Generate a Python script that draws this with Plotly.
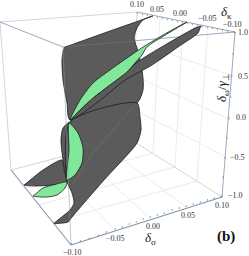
import plotly.graph_objects as go

# Flattened (projected) view of the 3D plot: x, y on a 249x256 plane
wing_x = [24,26,43,62,64,67,53,37,27]
wing_y = [185,183.5,170,160,170,182,185,186,185.6]
green_low_x = [33,35,43,55,67,65,57,47,36]
green_low_y = [196,194.5,188,184.5,182,188,195,197,196.6]
lobe_x = [70,63,61,63,67,69]
lobe_y = [122,128,140,160,181,150]
sheet_upper_x = [65,68,110,150,153,151,143,137,134,137,141,143,143,137,70,67,63,62,63.5]
sheet_upper_y = [47,46,31,17,16,16.5,20,28,38,48,64,78,90,103,120,103,80,60,50]
strip_x = [70,78,93,110,127,135,145,165,195,199,201,200,198,178,152,125,103,80]
strip_y = [120,112,98,85,72,64,57,45,28,26.5,26,28,33,47,65,80,98,115]
green_up_x = [70,80,93,110,127,140,158,172,187,162,147,142,135,127,110,93,78]
green_up_y = [120,100,83,70,58,49,38,30,22,37,47,55,63,72,85,98,112]
sheet_lower_x = [70,137,140,141,137,104,72,68,57,54,58,70,74,72,67]
sheet_lower_y = [122,103,117,130,143,180,217,222,223.5,223.5,220,210,203,193,181]
green_mid_x = [69,78,83,82,75,67,69]
green_mid_y = [123,133,148,163,175,180,150]
ridge_x = [133,93,72]
ridge_y = [107,153,185]

# Box edges (from, to)
back_edges = [((0,22),(137,12)),((137,12),(130,139)),((0,22),(11,170)),((11,170),(130,139)),((130,139),(222,197))]
front_edges = [((0,22),(63,47)),((63,47),(235,32)),((137,12),(235,32)),((235,32),(222,197)),((11,170),(71,245)),((71,245),(222,197))]
front_post = [(63,47),(71,245)]
# Faint grid lines
grid_lines = [((115,230),(47,161)),((150,218),(78,153)),((186,207),(105,146)),
              ((53,222),(197,181)),((39,205),(175,167)),((26,188),(153,153)),
              ((160,17),(153,153)),((183,22),(175,167)),((208,27),(197,181)),
              ((135,42),(233,76)),((133,75),(231,120)),((131,108),(226,157))]
# Tick marks: start points and tick direction on the three labelled axes
kappa_ticks = [(137,12),(142,13.2),(147,14.3),(152,15.3),(157,16.3),(162,17.3),(167,18.3),(172,19.4),(177,20.5),(182,21.5),
               (187,22.3),(192,23.3),(197,24.3),(202,25.3),(207,26.3),(212,27.3),(217,28.3),(222,29.3),(227,30.3),(235,32)]
sigma_ticks = [(71,245),(80,242),(89,239.5),(98,236.5),(106,233),(115,230),(122,228),(129,225),(136,223),(143,220),(150,218),
               (157,216),(164,214),(172,211),(179,209),(186,207),(193,205),(200,203),(207,201),(214,199),(222,197)]
omega_ticks = [(235,32),(234,54),(232.5,76),(231.5,97),(230,118),(228,138),(226,158),(224,177),(222,197)]

def seg(lines):
    xs, ys = [], []
    for a, b in lines:
        xs += [a[0], b[0], None]
        ys += [a[1], b[1], None]
    return xs, ys

fig = go.Figure()
def line(lines, color, width):
    x, y = seg(lines)
    fig.add_trace(go.Scatter(x=x, y=y, mode="lines", line=dict(color=color, width=width), hoverinfo="skip"))
def poly(x, y, fill, edge="#1c1c1c", w=0.8):
    fig.add_trace(go.Scatter(x=x + x[:1], y=y + y[:1], mode="lines", fill="toself", fillcolor=fill,
                             line=dict(color=edge, width=w, shape="spline", smoothing=0.7), hoverinfo="skip"))

DARK = "#5b5b5b"
GREEN = "#80e898"
line(grid_lines, "#e6e6e6", 0.8)
line(back_edges, "#c4ccd4", 0.8)
line(front_edges[:4], "#8fa2b8", 0.9)
line(front_edges[4:], "#7f94ac", 1.1)

poly(wing_x, wing_y, DARK)
poly(green_low_x, green_low_y, GREEN)
poly(lobe_x, lobe_y, DARK)
poly(sheet_upper_x, sheet_upper_y, DARK)
poly(strip_x, strip_y, DARK)
poly(green_up_x, green_up_y, GREEN)
poly(sheet_lower_x, sheet_lower_y, DARK)
poly(green_mid_x, green_mid_y, GREEN)
line([((ridge_x[0],ridge_y[0]),(ridge_x[1],ridge_y[1])),((ridge_x[1],ridge_y[1]),(ridge_x[2],ridge_y[2]))], "#6d6d6d", 0.8)
line([(front_post[0], front_post[1])], "rgba(130,150,172,0.65)", 0.8)
line([((63,47),(135,41))], "rgba(140,160,180,0.35)", 0.7)

line([(p, (p[0]+0.6, p[1]+2)) for p in kappa_ticks], "#6f7f90", 0.7)
line([(p, (p[0]+0.6, p[1]-2)) for p in sigma_ticks], "#6f7f90", 0.7)
line([(p, (p[0]-2, p[1])) for p in omega_ticks], "#6f7f90", 0.7)

label_text = ["0.10","0.05","0.00","\u22120.05","\u22120.10","1.0","0.5","0.0","\u22120.5","\u22121.0",
              "\u22120.10","\u22120.05","0.00","0.05","0.10"]
label_x = [137,157,180,207,232,243,243,241,237,235,72,115,153,188,222]
label_y = [4,9,13,18,24,32,76,117,157,195,252,238,226,215,205]
for t, x, y in zip(label_text, label_x, label_y):
    fig.add_annotation(x=x, y=y, text=t, showarrow=False, font=dict(family="Liberation Serif", size=8, color="#333333"))

fig.add_annotation(x=226, y=12, text="<i>\u03b4</i><sub>\u03ba</sub>", showarrow=False, font=dict(family="Liberation Serif", size=13, color="#222222"))
fig.add_annotation(x=150, y=238, text="<i>\u03b4</i><sub>\u03c3</sub>", showarrow=False, font=dict(family="Liberation Serif", size=13, color="#222222"))
fig.add_annotation(x=222, y=88, text="<i>\u03b4</i><sub>\u03c9</sub>/<i>\u03b3</i><sub>\u22a5</sub>", textangle=-90, showarrow=False, font=dict(family="Liberation Serif", size=13, color="#222222"))
fig.add_annotation(x=226, y=236, text="<b>(b)</b>", showarrow=False, font=dict(family="Liberation Serif", size=15, color="#111111"))

fig.update_layout(width=249, height=256, margin=dict(l=0, r=0, t=0, b=0), showlegend=False,
                  paper_bgcolor="white", plot_bgcolor="white",
                  xaxis=dict(range=[0,249], visible=False), yaxis=dict(range=[256,0], visible=False))
fig.write_html("out.html", config=dict(displayModeBar=False),
               post_script="document.body.style.margin='0';document.documentElement.style.overflow='hidden';")
